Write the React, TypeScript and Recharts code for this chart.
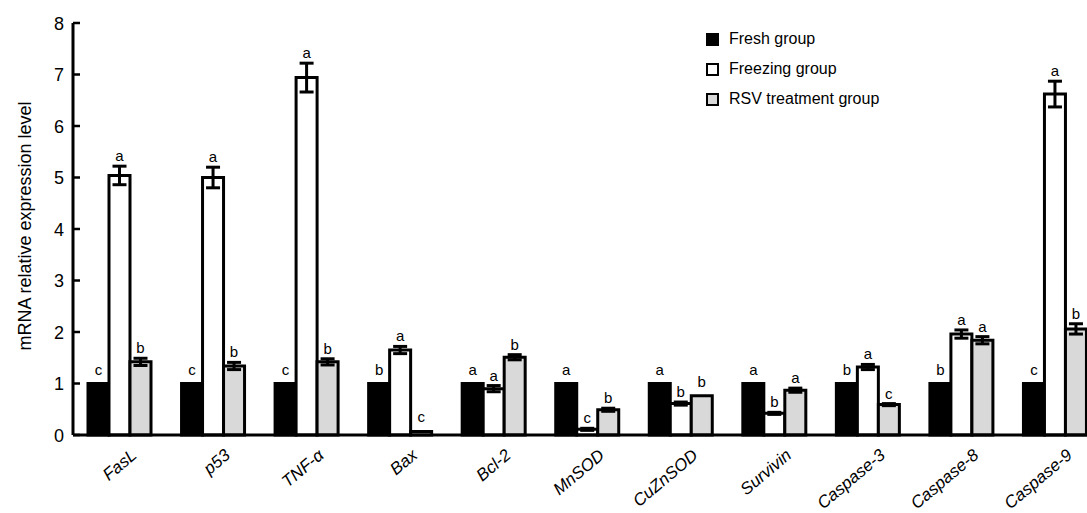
import React from 'react';
import { BarChart, Bar, XAxis, YAxis, ErrorBar, LabelList } from 'recharts';

const genes = ['FasL', 'p53', 'TNF-α', 'Bax', 'Bcl-2', 'MnSOD', 'CuZnSOD', 'Survivin', 'Caspase-3', 'Caspase-8', 'Caspase-9'];

const fresh = [1, 1, 1, 1, 1, 1, 1, 1, 1, 1, 1];
const freshErr = [0, 0, 0, 0, 0, 0, 0, 0, 0, 0, 0];
const freshLetters = ['c', 'c', 'c', 'b', 'a', 'a', 'a', 'a', 'b', 'b', 'c'];

const freezing = [5.04, 5.0, 6.94, 1.65, 0.9, 0.11, 0.61, 0.42, 1.32, 1.96, 6.62];
const freezingErr = [0.18, 0.2, 0.28, 0.07, 0.06, 0.02, 0.03, 0.02, 0.05, 0.08, 0.25];
const freezingLetters = ['a', 'a', 'a', 'a', 'a', 'c', 'b', 'b', 'a', 'a', 'a'];

const rsv = [1.42, 1.34, 1.42, 0.07, 1.51, 0.49, 0.76, 0.87, 0.59, 1.84, 2.06];
const rsvErr = [0.07, 0.07, 0.06, 0, 0.05, 0.03, 0, 0.04, 0.02, 0.07, 0.1];
const rsvLetters = ['b', 'b', 'b', 'c', 'b', 'b', 'b', 'a', 'c', 'a', 'b'];

const yTicks = [0, 1, 2, 3, 4, 5, 6, 7, 8];

const legendItems = [
  { name: 'Fresh group', color: '#000000' },
  { name: 'Freezing group', color: '#ffffff' },
  { name: 'RSV treatment group', color: '#d9d9d9' },
];

const data = genes.map((g, i) => ({
  gene: g,
  fresh: fresh[i],
  freshErr: freshErr[i],
  freshL: freshLetters[i],
  freezing: freezing[i],
  freezingErr: freezingErr[i],
  freezingL: freezingLetters[i],
  rsv: rsv[i],
  rsvErr: rsvErr[i],
  rsvL: rsvLetters[i],
}));

const FONT = '"Liberation Sans", Arial, Helvetica, sans-serif';

// significance letter sits just above the error bar (or bar top)
const makeLetter = (vals: number[], errs: number[]) => (props: any) => {
  const vb = props.viewBox ?? props;
  const x = vb.x ?? props.x;
  const y = vb.y ?? props.y;
  const width = vb.width ?? props.width;
  const height = vb.height ?? props.height;
  const i = props.index;
  const pxPerUnit = Math.abs(height) / vals[i];
  const e = errs[i] * pxPerUnit;
  const gap = errs[i] > 0 ? 5 : 9;
  return (
    <text x={x + width / 2} y={y - e - gap} textAnchor="middle" fontSize={15} fontFamily={FONT} fill="#000">
      {props.value}
    </text>
  );
};

const YTick = (props: any) => {
  const { x, y, payload } = props;
  return (
    <g>
      <line x1={x} x2={x + 7} y1={y} y2={y} stroke="#000" strokeWidth={2.5} />
      <text x={x - 9} y={y} dy={6.5} textAnchor="end" fontSize={18} fontFamily={FONT} fill="#000">
        {payload.value}
      </text>
    </g>
  );
};

const XTick = (props: any) => {
  const { x, y, payload } = props;
  const ax = x + 18;
  const ay = y + 22;
  return (
    <text
      x={ax}
      y={ay}
      textAnchor="end"
      fontSize={17}
      fontStyle="italic"
      fontFamily={FONT}
      fill="#000"
      transform={`rotate(-40, ${ax}, ${ay})`}
    >
      {payload.value}
    </text>
  );
};

export default function App() {
  return (
    <div
      style={{
        position: 'absolute',
        left: 0,
        top: 0,
        width: 1087,
        height: 513,
        overflow: 'hidden',
        background: '#fff',
        fontFamily: FONT,
      }}
    >
      <BarChart
        width={1102}
        height={513}
        data={data}
        margin={{ top: 23, right: 0, left: 28, bottom: 0 }}
        barGap={0}
        barSize={21}
      >
        <XAxis
          dataKey="gene"
          height={78}
          tickLine={false}
          tickSize={0}
          tickMargin={0}
          axisLine={{ stroke: '#000', strokeWidth: 3 }}
          tick={<XTick />}
          interval={0}
        />
        <YAxis
          domain={[0, 8]}
          ticks={yTicks}
          interval={0}
          width={45}
          tickLine={false}
          tickSize={0}
          tickMargin={0}
          axisLine={{ stroke: '#000', strokeWidth: 3 }}
          tick={<YTick />}
        />
        <Bar dataKey="fresh" fill="#000" stroke="#000" strokeWidth={3} isAnimationActive={false}>
          <LabelList dataKey="freshL" content={makeLetter(fresh, freshErr)} />
        </Bar>
        <Bar dataKey="freezing" fill="#fff" stroke="#000" strokeWidth={3} isAnimationActive={false}>
          <ErrorBar dataKey="freezingErr" width={7} strokeWidth={3} stroke="#000" direction="y" />
          <LabelList dataKey="freezingL" content={makeLetter(freezing, freezingErr)} />
        </Bar>
        <Bar dataKey="rsv" fill="#d9d9d9" stroke="#000" strokeWidth={3} isAnimationActive={false}>
          <ErrorBar dataKey="rsvErr" width={7} strokeWidth={3} stroke="#000" direction="y" />
          <LabelList dataKey="rsvL" content={makeLetter(rsv, rsvErr)} />
        </Bar>
      </BarChart>

      <div
        style={{
          position: 'absolute',
          left: 25,
          top: 226,
          transform: 'translate(-50%, -50%) rotate(-90deg)',
          whiteSpace: 'nowrap',
          fontSize: 18,
          color: '#000',
        }}
      >
        mRNA relative expression level
      </div>

      <div style={{ position: 'absolute', left: 706, top: 24 }}>
        {legendItems.map((item) => (
          <div key={item.name} style={{ display: 'flex', alignItems: 'center', height: 30 }}>
            <span
              style={{
                width: 9,
                height: 9,
                border: '2px solid #000',
                background: item.color,
                display: 'inline-block',
                marginRight: 10,
              }}
            />
            <span style={{ fontSize: 16, color: '#000' }}>{item.name}</span>
          </div>
        ))}
      </div>
    </div>
  );
}
